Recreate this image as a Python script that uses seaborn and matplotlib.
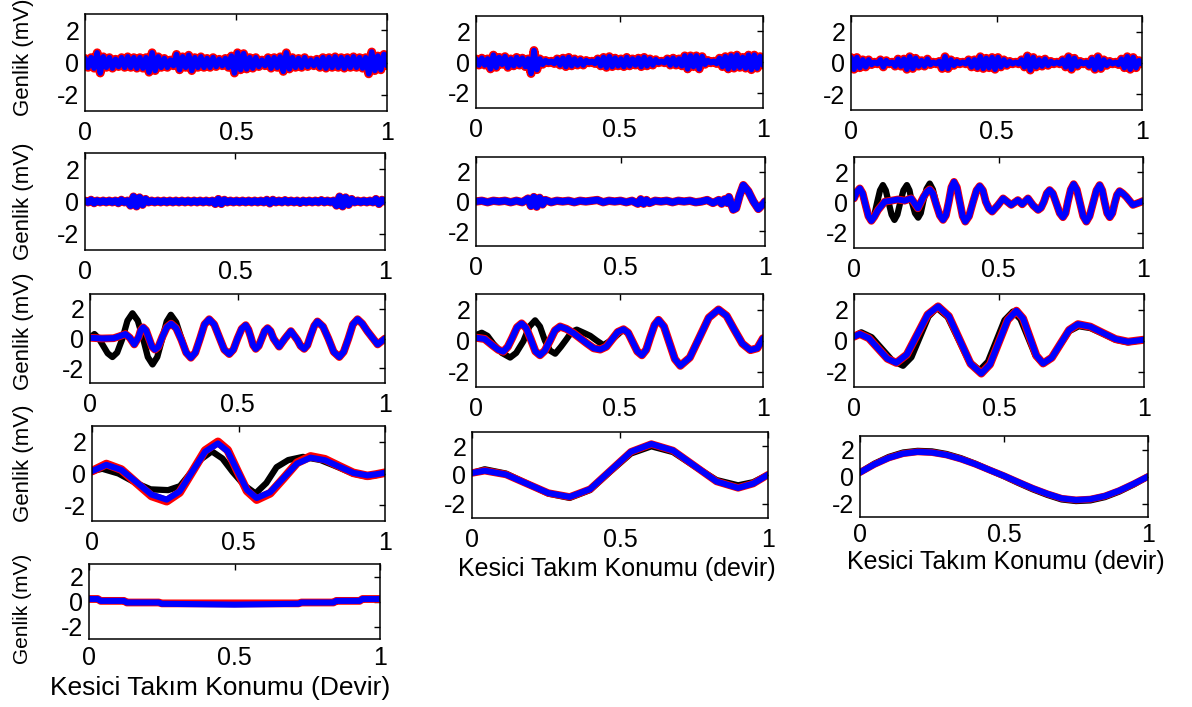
import numpy as np
import matplotlib
matplotlib.use("Agg")
import matplotlib.pyplot as plt
import seaborn as sns

# ---------------------------------------------------------------- data
# Tick labels shared by every panel
x_ticks = [0, 0.5, 1]
x_tick_labels = ["0", "0.5", "1"]
y_ticks = [-2, 0, 2]
y_tick_labels = ["-2", "0", "2"]

# Detail levels (high frequency, uniformly sampled over one revolution)
p1_blue = [0.25, -0.3, 0.3, -0.35, 0.6, -0.65, 0.35, -0.3, 0.3, -0.35,
           0.2, -0.25, 0.3, -0.3, 0.35, -0.3, 0.3, -0.35, 0.3, -0.35, 0.3,
           -0.6, 0.6, -0.5, 0.35, -0.3, 0.25, -0.3, 0.15, -0.2,
           0.5, -0.45, 0.35, -0.3, 0.45, -0.5, 0.3,
           -0.3, 0.35, -0.3, 0.25, -0.3, 0.3, -0.25, 0.2,
           -0.2, 0.25, -0.3, 0.4, -0.65, 0.6, -0.45, 0.55, -0.4,
           0.3, -0.35, 0.3, -0.25, 0.15, -0.2,
           0.3, -0.35, 0.3, -0.3, 0.35, -0.55, 0.6, -0.4,
           0.3, -0.3, 0.25, -0.3, 0.3, -0.25, 0.15, -0.2, 0.2,
           -0.3, 0.3, -0.35, 0.3, -0.3, 0.35, -0.3, 0.3,
           -0.35, 0.3, -0.3, 0.35, -0.3, 0.3, -0.35, 0.3,
           -0.7, 0.65, -0.5, 0.4, -0.45, 0.5, -0.2]

p2_blue = [0.2, -0.2, 0.25, -0.2, 0.2, -0.45, 0.45, -0.35, 0.3,
           -0.15, 0.35, -0.35, 0.2, -0.25, 0.3, -0.2, 0.25, -0.3, 0.2,
           -0.75, 0.75, -0.5, 0.2, -0.15, 0.1, -0.05, 0.05, -0.1,
           0.2, -0.2, 0.25, -0.3, 0.3, -0.25, 0.2, -0.2, 0.15, -0.2, 0.1,
           -0.05, 0.05, -0.1,
           0.2, -0.25, 0.3, -0.35, 0.35, -0.3, 0.25, -0.25, 0.2,
           -0.3, 0.3, -0.25, 0.2, -0.2,
           0.25, -0.3, 0.3, -0.25, 0.2, -0.2, 0.15, -0.05, 0.05, -0.05,
           0.2, -0.2, 0.25, -0.2, 0.2, -0.25,
           0.4, -0.45, 0.4, -0.3, 0.4, -0.45, 0.35,
           -0.15, 0.1, -0.05, 0.05, -0.1,
           0.25, -0.3, 0.35, -0.45, 0.4, -0.4, 0.45, -0.35, 0.3,
           -0.4, 0.45, -0.5, 0.45, -0.4, 0.35, -0.2]

p3_blue = [0.35, -0.4, 0.35, -0.3, 0.2, -0.25, 0.2, -0.1, 0.05, -0.05,
           0.2, -0.25, 0.15, -0.05, 0.05, -0.2, 0.25, -0.2, 0.25,
           -0.4, 0.4, -0.35, 0.3, -0.2, 0.15, -0.2, 0.25, -0.1,
           0.05, -0.05, 0.1, -0.35, 0.4, -0.35, 0.2, -0.15, 0.1,
           -0.05, 0.05, -0.05, 0.2, -0.25, 0.2, -0.3,
           0.4, -0.35, 0.3, -0.3, 0.35, -0.4, 0.35, -0.25,
           0.2, -0.15, 0.1, -0.05, 0.05, -0.05, 0.2, -0.25,
           0.45, -0.45, 0.35, -0.25, 0.2, -0.2, 0.25, -0.15, 0.1,
           -0.05, 0.05, -0.05, 0.2, -0.25, 0.4, -0.4, 0.3, -0.2,
           0.1, -0.05, 0.05, -0.2, 0.25, -0.4, 0.4, -0.35, 0.2,
           -0.15, 0.1, -0.05, 0.05, -0.1, 0.25, -0.3,
           0.4, -0.4, 0.35, -0.3, 0.15, -0.05]

p4_blue = [0.05, -0.05, 0.1, -0.1, 0.05, -0.05, 0.05, -0.05, 0.05, -0.05,
           0.05, -0.1, 0.1, -0.05, 0.05,
           -0.25, 0.3, -0.3, 0.25, -0.2, 0.15,
           -0.05, 0.05, -0.05, 0.05, -0.05, 0.05, -0.05, 0.05, -0.05,
           0.05, -0.05, 0.05, -0.05, 0.05, -0.05, 0.05, -0.05, 0.05, -0.05,
           0.05, -0.05, 0.05,
           -0.15, 0.15, -0.15, 0.1,
           -0.05, 0.05, -0.05, 0.05, -0.05, 0.05, -0.05, 0.05, -0.05, 0.05,
           -0.05, 0.05, -0.05,
           0.1, -0.12, 0.1,
           -0.05, 0.05, -0.05, 0.08, -0.05, 0.05, -0.05, 0.05, -0.08, 0.05,
           -0.05, 0.05, -0.05, 0.05, -0.05, 0.08, -0.05, 0.05, -0.05, 0.05,
           -0.25, 0.3, -0.3, 0.25, -0.2, 0.15,
           -0.05, 0.05, -0.05, 0.05, -0.05, 0.05, -0.05,
           0.15, -0.15, 0.1, 0.0]

p5_x = [0.0, 0.02, 0.04, 0.06, 0.08, 0.1, 0.12, 0.14, 0.16, 0.18,
        0.19, 0.2, 0.21, 0.22, 0.23, 0.24,
        0.26, 0.28, 0.3, 0.32, 0.34, 0.36, 0.38, 0.4, 0.42, 0.44, 0.46,
        0.48, 0.5, 0.52, 0.54, 0.56,
        0.57, 0.58, 0.59, 0.6,
        0.62, 0.64, 0.66, 0.68, 0.7, 0.72, 0.74, 0.76, 0.78, 0.8, 0.82, 0.84,
        0.85, 0.86, 0.87, 0.875,
        0.89, 0.9, 0.912, 0.925, 0.942, 0.96, 0.977, 0.994, 1.0]
p5_blue = [0.0, 0.05, -0.05, 0.05, 0.0, 0.05, -0.05, 0.05, -0.05, 0.2,
           -0.3, 0.3, -0.35, 0.25, -0.2, 0.1,
           -0.05, 0.05, 0.0, 0.05, -0.05, 0.05, 0.0, 0.05, 0.1, -0.05, 0.05,
           0.0, 0.05, -0.05, 0.05, -0.15,
           0.15, -0.15, 0.1, -0.1,
           0.05, 0.0, 0.05, -0.05, 0.05, 0.0, 0.05, -0.05, 0.0, 0.1, -0.1, 0.1,
           -0.15, 0.15, -0.1, 0.3,
           -0.55, -0.45, 0.4, 1.1, 0.7, 0.0, -0.5, -0.15, 0.0]

# Mid levels
p6_x = [0.0, 0.01, 0.02, 0.03, 0.04, 0.05, 0.06, 0.07, 0.083, 0.106,
        0.129, 0.152, 0.175, 0.198, 0.221, 0.241, 0.252, 0.262, 0.273, 0.285,
        0.297, 0.308, 0.318, 0.328, 0.337, 0.346, 0.356, 0.366, 0.376, 0.385,
        0.398, 0.412, 0.424, 0.435, 0.446, 0.456, 0.467, 0.478, 0.497, 0.516,
        0.544, 0.567, 0.582, 0.602, 0.62, 0.637, 0.647, 0.657, 0.667, 0.677,
        0.688, 0.7, 0.712, 0.723, 0.732, 0.74, 0.75, 0.76, 0.771, 0.781,
        0.793, 0.804, 0.815, 0.827, 0.839, 0.85, 0.859, 0.867, 0.876, 0.885,
        0.894, 0.902, 0.91, 0.919, 0.93, 0.942, 0.965, 0.988, 1.0]
p6_blue = [0.27, 0.7, 0.93, 0.6, -0.16, -0.9, -1.21, -0.95, -0.5, 0.05,
           0.12, 0.2, 0.12, 0.27, -0.38, 0.38, 0.7, 0.86, 0.6, -0.16,
           -0.85, -1.15, -0.85, 0.05, 1.0, 1.36, 1.0, 0.05, -0.9, -1.26,
           -0.9, 0.05, 0.8, 1.08, 0.8, 0.05, -0.4, -0.6, -0.2, 0.27,
           -0.16, 0.16, -0.12, 0.27, -0.2, -0.49, -0.35, 0.05, 0.6, 0.82,
           0.6, -0.05, -0.7, -0.97, -0.7, 0.05, 0.85, 1.21, 0.85, 0.05,
           -0.9, -1.26, -0.9, -0.05, 0.8, 1.15, 0.8, 0.05, -0.7, -0.97,
           -0.7, -0.05, 0.5, 0.75, 0.6, 0.38, -0.16, 0.0, 0.1]
# the reference trace runs ahead of the others during the first third
p6_black_head_x = [0.0, 0.01, 0.02, 0.03, 0.04, 0.05, 0.06, 0.07, 0.08, 0.09,
                   0.1, 0.11, 0.12, 0.13, 0.14, 0.15, 0.16, 0.171, 0.183,
                   0.192, 0.2, 0.211, 0.222, 0.231, 0.24, 0.251, 0.262,
                   0.273, 0.285, 0.297, 0.308]
p6_black_head = [0.27, 0.7, 0.9, 0.55, -0.2, -0.9, -1.2, -0.85, 0.0, 0.8,
                 1.15, 0.8, 0.0, -0.8, -1.15, -0.8, 0.0, 0.8, 1.15,
                 0.8, 0.05, -0.7, -1.0, -0.7, 0.1, 0.9, 1.25,
                 0.85, -0.1, -0.85, -1.15]
p6_join = 22

p7_x = [0.0, 0.04, 0.08, 0.10, 0.12, 0.135, 0.15, 0.165, 0.172, 0.18,
        0.19, 0.20, 0.21, 0.22, 0.232, 0.245, 0.26, 0.275, 0.292, 0.31,
        0.326, 0.342, 0.357, 0.373, 0.388, 0.404, 0.421, 0.438, 0.455, 0.472,
        0.486, 0.50, 0.514, 0.528, 0.537, 0.545, 0.553, 0.562, 0.572, 0.582,
        0.592, 0.602, 0.612, 0.622, 0.641, 0.661, 0.681, 0.703, 0.714, 0.726,
        0.737, 0.748, 0.76, 0.771, 0.79, 0.808, 0.826, 0.845, 0.86, 0.876,
        0.891, 0.907, 0.923, 0.94, 0.975, 1.0]
p7_blue = [0.05, 0.0, 0.02, 0.15, 0.3, 0.05, -0.4, 0.1, 0.55, 0.75,
           0.55, 0.0, -0.55, -0.75, -0.55, 0.1, 0.75, 1.0, 0.7, -0.1,
           -0.95, -1.3, -0.95, 0.0, 0.95, 1.3, 0.95, 0.1, -0.75, -1.05,
           -0.75, 0.0, 0.65, 0.9, 0.6, 0.1, -0.45, -0.7, -0.5, 0.0,
           0.5, 0.7, 0.5, 0.0, -0.55, 0.0, 0.5, -0.1, -0.5, -0.7,
           -0.45, 0.2, 0.85, 1.15, 0.8, 0.0, -0.9, -1.25, -0.9, 0.0,
           0.95, 1.3, 1.0, 0.5, -0.4, 0.0]
p7_black_head_x = [0.0, 0.015, 0.03, 0.045, 0.06, 0.076, 0.092, 0.11, 0.127,
                   0.144, 0.162, 0.18, 0.196, 0.212, 0.228, 0.245, 0.26,
                   0.274, 0.292, 0.31, 0.326, 0.342]
p7_black_head = [0.05, 0.3, 0.0, -0.5, -1.0, -1.25, -0.95, 0.0, 1.2,
                 1.7, 1.2, 0.0, -1.25, -1.75, -1.25, 0.0, 1.15,
                 1.6, 1.1, 0.0, -0.95, -1.3]
p7_join = 22

p8_x = [0.0, 0.03, 0.06, 0.078, 0.095, 0.111, 0.127, 0.143, 0.159, 0.175,
        0.191, 0.207, 0.223, 0.24, 0.258, 0.275, 0.293, 0.315, 0.34, 0.386,
        0.41, 0.433, 0.454, 0.474, 0.494, 0.514, 0.53, 0.546, 0.562, 0.578,
        0.593, 0.607, 0.622, 0.636, 0.655, 0.674, 0.693, 0.712, 0.745, 0.778,
        0.811, 0.845, 0.873, 0.9, 0.928, 0.956, 0.98, 1.0]
p8_blue = [0.18, 0.1, -0.35, -0.6, -0.72, -0.4, 0.2, 0.85, 1.1, 0.8,
           0.08, -0.7, -0.95, -0.65, 0.0, 0.65, 0.9, 0.75, 0.47, -0.18,
           -0.5, -0.58, -0.4, 0.07, 0.55, 0.72, 0.5, -0.1, -0.7, -0.95,
           -0.6, 0.2, 1.0, 1.33, 0.9, -0.15, -1.2, -1.63, -1.1, 0.18,
           1.47, 2.0, 1.6, 0.7, -0.2, -0.62, -0.5, 0.14]
p8_black_head_x = [0.0, 0.02, 0.04, 0.06, 0.09, 0.119, 0.14, 0.165, 0.186,
                   0.206, 0.223, 0.24, 0.258, 0.276, 0.296, 0.316, 0.333,
                   0.351, 0.375, 0.398, 0.42, 0.444, 0.474]
p8_black_head = [0.35, 0.5, 0.3, -0.2, -0.8, -1.1, -0.8, -0.05, 0.9,
                 1.3, 0.9, 0.0, -0.65, -0.85, -0.4, 0.1, 0.55,
                 0.7, 0.5, 0.3, 0.0, -0.3, 0.05]
p8_join = 25

p9_x = [0.0, 0.02, 0.051, 0.083, 0.115, 0.146, 0.182, 0.218, 0.254, 0.29,
        0.327, 0.3645, 0.402, 0.439, 0.469, 0.4995, 0.53, 0.56, 0.583, 0.606,
        0.629, 0.652, 0.682, 0.712, 0.742, 0.772, 0.815, 0.8585, 0.902, 0.945,
        1.0]
p9_blue = [0.25, 0.42, 0.15, -0.51, -1.17, -1.44, -0.91, 0.38, 1.67, 2.2,
           1.57, 0.035, -1.5, -2.13, -1.54, -0.105, 1.33, 1.92, 1.42, 0.22,
           -0.98, -1.48, -1.11, -0.215, 0.68, 1.05, 0.89, 0.485, 0.09, -0.08,
           0.05]
p9_black_x = [0.0, 0.025, 0.061, 0.097, 0.133, 0.169, 0.198, 0.2275, 0.257,
              0.286, 0.323, 0.3595, 0.396, 0.433, 0.462, 0.4905, 0.519,
              0.548, 0.574, 0.6, 0.626, 0.652, 0.682, 0.712, 0.742, 0.775,
              0.815, 0.86, 0.902, 0.945, 1.0]
p9_black = [0.25, 0.53, 0.21, -0.55, -1.31, -1.63, -1.08, 0.235, 1.55,
            2.1, 1.51, 0.09, -1.33, -1.92, -1.36, -0.025, 1.31,
            1.87, 1.38, 0.195, -0.99, -1.48, -1.11, -0.25, 0.6, 0.92,
            0.8, 0.42, 0.05, -0.12, 0.05]

# Approximation levels (low frequency)
p10_x = [0.0, 0.049, 0.1, 0.152, 0.203, 0.255, 0.299, 0.3425, 0.386, 0.43,
         0.463, 0.496, 0.529, 0.562, 0.608, 0.654, 0.7, 0.746, 0.795, 0.843,
         0.892, 0.94, 0.97, 1.0]
p10_blue = [0.15, 0.55, 0.23, -0.55, -1.33, -1.65, -1.13, 0.125, 1.38, 1.9,
            1.4, 0.175, -1.04, -1.55, -1.18, -0.275, 0.63, 1.0, 0.84, 0.44,
            0.04, -0.12, -0.05, 0.05]
p10_red = [0.15, 0.6, 0.25, -0.6, -1.42, -1.75, -1.2, 0.12, 1.45, 2.0,
           1.48, 0.17, -1.1, -1.65, -1.25, -0.3, 0.68, 1.08, 0.9, 0.47,
           0.04, -0.15, -0.06, 0.05]
p10_black_x = [0.0, 0.035, 0.09, 0.15, 0.2, 0.26, 0.3, 0.335, 0.372, 0.409,
               0.445, 0.48, 0.52, 0.558, 0.595, 0.63, 0.67, 0.72, 0.78, 0.84,
               0.89, 0.94, 0.97, 1.0]
p10_black = [0.15, 0.3, 0.0, -0.6, -1.0, -1.05, -0.8, 0.0, 0.9, 1.4,
             0.95, 0.1, -0.75, -1.26, -0.6, 0.4, 0.85, 1.05, 0.85, 0.4,
             0.0, -0.2, -0.1, 0.05]

p11_x = [0.0, 0.043, 0.115, 0.1865, 0.258, 0.33, 0.399, 0.468, 0.537, 0.606,
         0.679, 0.7525, 0.826, 0.899, 0.95, 1.0]
p11_blue = [0.14, 0.3, 0.035, -0.615, -1.26, -1.53, -0.99, 0.315, 1.62, 2.16,
            1.71, 0.63, -0.45, -0.9, -0.6, 0.02]
p11_black = [0.14, 0.4, 0.1, -0.6, -1.3, -1.6, -1.05, 0.25, 1.5, 2.0,
             1.6, 0.6, -0.35, -0.72, -0.5, 0.02]

p12_x = [0.0, 0.05, 0.1, 0.15, 0.2, 0.25, 0.3, 0.35, 0.4, 0.45, 0.5,
         0.55, 0.6, 0.65, 0.7, 0.75, 0.8, 0.85, 0.9, 0.95, 1.0]
p12_blue = [0.3, 0.9, 1.38, 1.7, 1.83, 1.78, 1.6, 1.3, 0.92, 0.48, 0.05,
            -0.42, -0.88, -1.28, -1.62, -1.74, -1.68, -1.45, -1.05, -0.55, 0.0]
p12_black = [0.3, 0.95, 1.45, 1.78, 1.9, 1.86, 1.67, 1.36, 0.95, 0.48, 0.02,
             -0.48, -0.95, -1.36, -1.7, -1.82, -1.77, -1.53, -1.12, -0.6, 0.0]

p13_x = [0.0, 0.03, 0.04, 0.12, 0.13, 0.24, 0.25, 0.5, 0.72, 0.73, 0.84,
         0.85, 0.93, 0.94, 1.0]
p13_blue = [0.2, 0.2, 0.05, 0.05, -0.08, -0.08, -0.18, -0.25, -0.18, -0.08,
            -0.08, 0.05, 0.05, 0.2, 0.2]
p13_red = [0.2, 0.2, 0.05, 0.05, -0.08, -0.08, -0.15, -0.15, -0.15, -0.08,
           -0.08, 0.05, 0.05, 0.2, 0.2]

y_label = "Genlik (mV)"
x_label_small = "Kesici Takım Konumu (devir)"
x_label_big = "Kesici Takım Konumu (Devir)"


def uniform(vals):
    return np.linspace(0.0, 1.0, len(vals))


def joined(head_x, head_y, x, y, start):
    """Reference trace: its own early part, then the common tail."""
    return list(head_x) + list(x[start:]), list(head_y) + list(y[start:])


p6_black_x, p6_black = joined(p6_black_head_x, p6_black_head, p6_x, p6_blue, p6_join)
p7_black_x, p7_black = joined(p7_black_head_x, p7_black_head, p7_x, p7_blue, p7_join)
p8_black_x, p8_black = joined(p8_black_head_x, p8_black_head, p8_x, p8_blue, p8_join)

# ---------------------------------------------------------------- style
sns.set_theme(style="white")
plt.rcParams["font.family"] = ["Liberation Sans", "DejaVu Sans"]
plt.rcParams["axes.unicode_minus"] = False

W, H = 1192, 707
fig = plt.figure(figsize=(W / 100, H / 100), dpi=100)
fig.patch.set_facecolor("white")

BLACK, RED, BLUE = "#000000", "#ff0000", "#0000ff"


def series(x, y, color, lw):
    return (list(x), list(y), color, lw)


def noisy(y):
    u = uniform(y)
    return [series(u, y, BLACK, 4.0), series(u, y, RED, 6.4),
            series(u, y, BLUE, 4.0)]


# (left, top, right, bottom) of each axes box in pixels, x tick-label pad,
# then the series drawn in it
panels = [
    ((85, 14, 387, 111), 7, noisy(p1_blue)),
    ((476, 16, 763, 108), 7, noisy(p2_blue)),
    ((851, 16, 1142, 110), 7, noisy(p3_blue)),
    ((85, 153, 385, 250), 7,
     [series(uniform(p4_blue), p4_blue, BLACK, 5.0),
      series(uniform(p4_blue), p4_blue, RED, 6.0),
      series(uniform(p4_blue), p4_blue, BLUE, 5.0)]),
    ((476, 157, 765, 246), 7,
     [series(p5_x, p5_blue, BLACK, 5.0),
      series(p5_x, p5_blue, RED, 6.0),
      series(p5_x, p5_blue, BLUE, 5.0)]),
    ((854, 157, 1143, 248), 7,
     [series(p6_black_x, p6_black, BLACK, 4.5),
      series(p6_x, p6_blue, RED, 5.6),
      series(p6_x, p6_blue, BLUE, 4.4)]),
    ((90, 294, 385, 383), 7,
     [series(p7_black_x, p7_black, BLACK, 4.5),
      series(p7_x, p7_blue, RED, 5.6),
      series(p7_x, p7_blue, BLUE, 4.4)]),
    ((476, 294, 763, 387), 7,
     [series(p8_black_x, p8_black, BLACK, 4.5),
      series(p8_x, p8_blue, RED, 5.8),
      series(p8_x, p8_blue, BLUE, 4.4)]),
    ((854, 294, 1144, 387), 7,
     [series(p9_black_x, p9_black, BLACK, 4.5),
      series(p9_x, p9_blue, RED, 5.8),
      series(p9_x, p9_blue, BLUE, 4.4)]),
    ((92, 426, 385, 521), 7,
     [series(p10_black_x, p10_black, BLACK, 4.5),
      series(p10_x, p10_red, RED, 6.2),
      series(p10_x, p10_blue, BLUE, 4.4)]),
    ((472, 432, 768, 518), 7,
     [series(p11_x, p11_black, BLACK, 4.5),
      series(p11_x, p11_blue, RED, 5.4),
      series(p11_x, p11_blue, BLUE, 4.4)]),
    ((860, 436, 1148, 517), 4,
     [series(p12_x, p12_black, BLACK, 4.5),
      series(p12_x, p12_blue, RED, 5.0),
      series(p12_x, p12_blue, BLUE, 4.4)]),
    ((89, 564, 380, 639), 5,
     [series(p13_x, p13_red, BLACK, 4.5),
      series(p13_x, p13_red, RED, 5.6),
      series(p13_x, p13_blue, BLUE, 4.4)]),
]

for (l, t, r, b), xpad, lines in panels:
    ax = fig.add_axes([l / W, 1 - b / H, (r - l) / W, (b - t) / H])
    for x, y, color, lw in lines:
        sns.lineplot(x=x, y=y, ax=ax, color=color, linewidth=lw, sort=False,
                     estimator=None, legend=False,
                     solid_joinstyle="round", solid_capstyle="round")
    ax.set_xlim(0, 1)
    ax.set_ylim(-3, 3)
    ax.set_xticks(x_ticks)
    ax.set_xticklabels(x_tick_labels)
    ax.set_yticks(y_ticks)
    ax.set_yticklabels(y_tick_labels)
    ax.tick_params(direction="in", length=4, width=1, colors="black",
                   top=True, right=True, labelsize=18)
    ax.tick_params(axis="x", pad=xpad)
    ax.tick_params(axis="y", pad=4)
    for s in ax.spines.values():
        s.set_color("black")
        s.set_linewidth(1.1)
    ax.set_xlabel("")
    ax.set_ylabel("")
    ax.set_facecolor("white")

# Shared amplitude label on the left column
for yc, size in [(57, 16), (201, 16), (331, 16), (463, 16), (609, 15)]:
    fig.text(23 / W, 1 - yc / H, y_label, rotation=90, ha="center",
             va="center", fontsize=size, color="black")

# Position labels under the bottom panel of each column
fig.text(617 / W, 1 - 569 / H, x_label_small, ha="center", va="center",
         fontsize=18, color="black")
fig.text(1006 / W, 1 - 562 / H, x_label_small, ha="center", va="center",
         fontsize=18, color="black")
fig.text(220 / W, 1 - 688 / H, x_label_big, ha="center", va="center",
         fontsize=19, color="black")

fig.savefig("out.png", dpi=100, facecolor="white")
